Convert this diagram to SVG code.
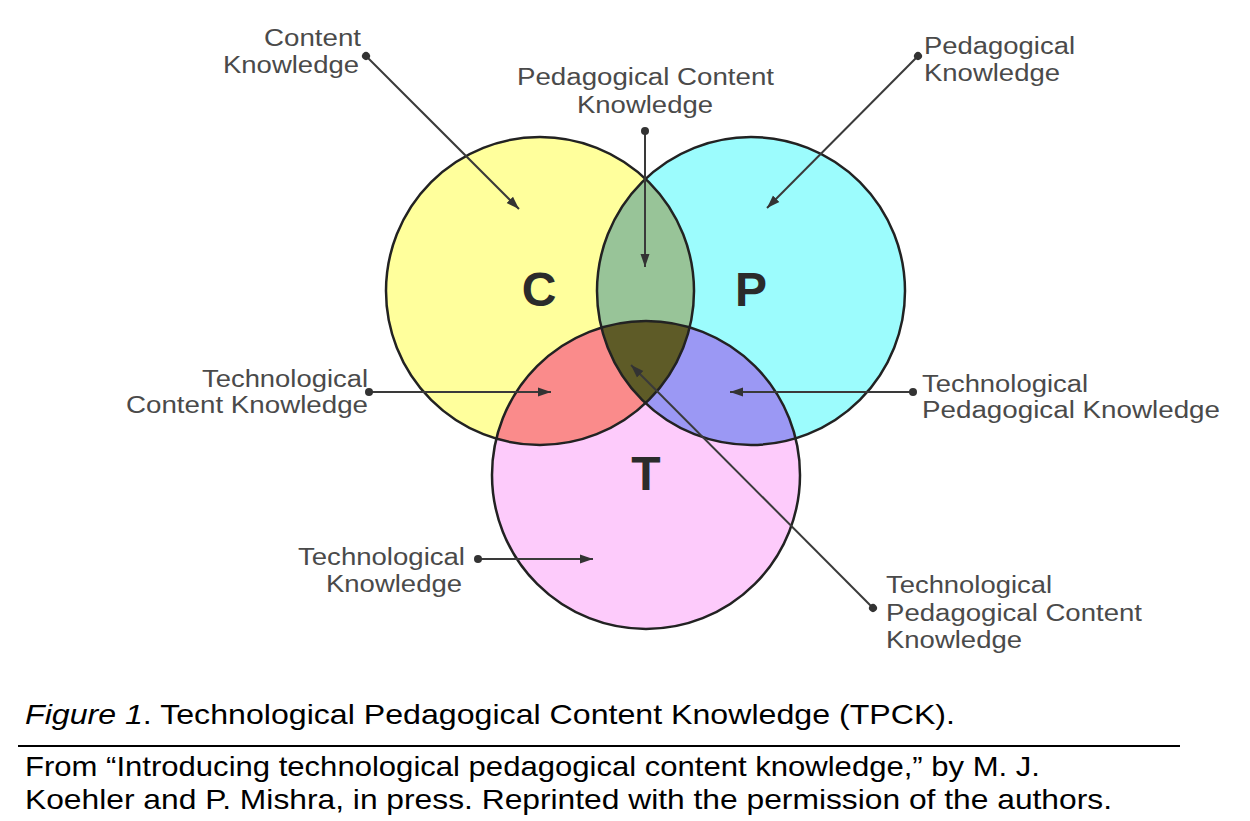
<svg xmlns="http://www.w3.org/2000/svg" width="1250" height="821" viewBox="0 0 1250 821">
<style>
.lbl{font-family:"Liberation Sans",Arial,sans-serif;font-size:23px;fill:#4a4a4a}
.big{font-family:"Liberation Sans",Arial,sans-serif;font-size:48px;font-weight:bold;fill:#2b2b2b;text-anchor:middle}
.cap{font-family:"Liberation Sans",Arial,sans-serif;font-size:28px;fill:#000}
.ring{fill:none;stroke:#222;stroke-width:2.5}
.con{stroke:#3a3a3a;stroke-width:2;fill:none;marker-start:url(#dot);marker-end:url(#arr)}
</style>
<defs>
<clipPath id="cC"><circle cx="540" cy="291" r="154"/></clipPath>
<clipPath id="cP"><circle cx="751" cy="291" r="154"/></clipPath>
<marker id="dot" markerUnits="userSpaceOnUse" markerWidth="10" markerHeight="10" refX="5" refY="5" orient="auto"><circle cx="5" cy="5" r="4" fill="#333"/></marker>
<marker id="arr" markerUnits="userSpaceOnUse" markerWidth="14" markerHeight="10" refX="13" refY="5" orient="auto"><path d="M0,0.5 L13,5 L0,9.5 Z" fill="#333"/></marker>
</defs>
<rect width="1250" height="821" fill="#fff"/>
<g id="C"><circle cx="540" cy="291" r="154" fill="#ffff9c"/></g>
<g id="P"><circle cx="751" cy="291" r="154" fill="#9cfcfd"/></g>
<g id="T"><circle cx="646" cy="475" r="154" fill="#fdcbfb"/></g>
<g id="CP" clip-path="url(#cC)"><circle cx="751" cy="291" r="154" fill="#98c498"/></g>
<g id="CT" clip-path="url(#cC)"><circle cx="646" cy="475" r="154" fill="#fa8b8b"/></g>
<g id="PT" clip-path="url(#cP)"><circle cx="646" cy="475" r="154" fill="#9b98f4"/></g>
<g id="CPT" clip-path="url(#cC)"><g clip-path="url(#cP)"><circle cx="646" cy="475" r="154" fill="#5e5b27"/></g></g>
<g id="outlines">
<circle class="ring" cx="540" cy="291" r="154"/>
<circle class="ring" cx="751" cy="291" r="154"/>
<circle class="ring" cx="646" cy="475" r="154"/>
</g>
<g id="letters">
<text class="big" x="539" y="306">C</text>
<text class="big" x="751" y="306">P</text>
<text class="big" x="646" y="490">T</text>
</g>
<g id="connectors">
<line class="con" x1="366" y1="56" x2="519" y2="209"/>
<line class="con" x1="645" y1="131" x2="645" y2="267"/>
<line class="con" x1="918" y1="56" x2="767" y2="208"/>
<line class="con" x1="369" y1="392" x2="551" y2="392"/>
<line class="con" x1="913" y1="392" x2="730" y2="392"/>
<line class="con" x1="478" y1="559" x2="593" y2="559"/>
<line class="con" x1="873" y1="608" x2="631" y2="365"/>
</g>
<g id="label-CK"><text class="lbl" x="264" y="46" textLength="97" lengthAdjust="spacingAndGlyphs">Content</text><text class="lbl" x="223" y="73" textLength="136" lengthAdjust="spacingAndGlyphs">Knowledge</text></g>
<g id="label-PCK"><text class="lbl" x="517" y="85" textLength="257" lengthAdjust="spacingAndGlyphs">Pedagogical Content</text><text class="lbl" x="577" y="113" textLength="136" lengthAdjust="spacingAndGlyphs">Knowledge</text></g>
<g id="label-PK"><text class="lbl" x="924" y="54" textLength="151" lengthAdjust="spacingAndGlyphs">Pedagogical</text><text class="lbl" x="924" y="81" textLength="136" lengthAdjust="spacingAndGlyphs">Knowledge</text></g>
<g id="label-TCK"><text class="lbl" x="202" y="387" textLength="166" lengthAdjust="spacingAndGlyphs">Technological</text><text class="lbl" x="126" y="413" textLength="242" lengthAdjust="spacingAndGlyphs">Content Knowledge</text></g>
<g id="label-TPK"><text class="lbl" x="922" y="392" textLength="166" lengthAdjust="spacingAndGlyphs">Technological</text><text class="lbl" x="922" y="418" textLength="298" lengthAdjust="spacingAndGlyphs">Pedagogical Knowledge</text></g>
<g id="label-TK"><text class="lbl" x="298" y="565" textLength="167" lengthAdjust="spacingAndGlyphs">Technological</text><text class="lbl" x="326" y="592" textLength="136" lengthAdjust="spacingAndGlyphs">Knowledge</text></g>
<g id="label-TPCK"><text class="lbl" x="886" y="593" textLength="166" lengthAdjust="spacingAndGlyphs">Technological</text><text class="lbl" x="886" y="621" textLength="256" lengthAdjust="spacingAndGlyphs">Pedagogical Content</text><text class="lbl" x="886" y="648" textLength="136" lengthAdjust="spacingAndGlyphs">Knowledge</text></g>
<g id="caption">
<text class="cap" x="25" y="724" textLength="930" lengthAdjust="spacingAndGlyphs"><tspan font-style="italic">Figure 1</tspan>. Technological Pedagogical Content Knowledge (TPCK).</text>
<line x1="18" y1="746" x2="1180" y2="746" stroke="#000" stroke-width="2"/>
<text class="cap" x="25" y="776" textLength="1015" lengthAdjust="spacingAndGlyphs">From “Introducing technological pedagogical content knowledge,” by M. J.</text>
<text class="cap" x="25" y="809" textLength="1087" lengthAdjust="spacingAndGlyphs">Koehler and P. Mishra, in press. Reprinted with the permission of the authors.</text>
</g>
</svg>
